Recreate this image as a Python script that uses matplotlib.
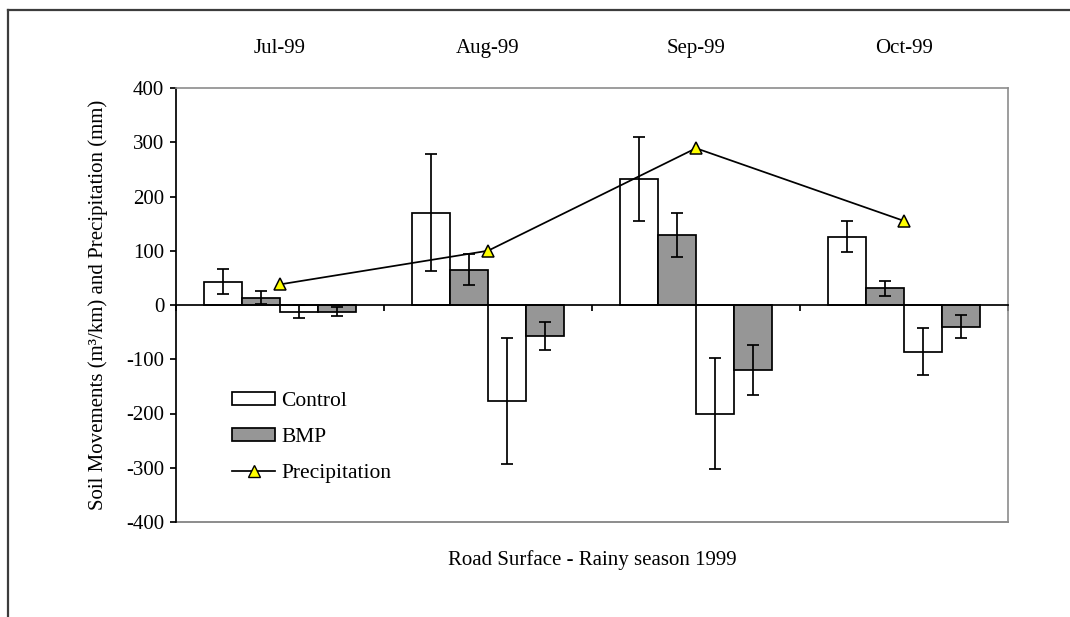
import numpy as np
import matplotlib.pyplot as plt
from matplotlib.patches import Patch
from matplotlib.lines import Line2D

plt.rcParams['font.family'] = ['Liberation Serif', 'DejaVu Serif']
plt.rcParams['axes.unicode_minus'] = False

# meses da estação chuvosa
meses = ['Jul-99', 'Aug-99', 'Sep-99', 'Oct-99']

# movimento de solo (m3/km): deposição (positivo) e erosão (negativo)
controle_pos = [43, 170, 232, 126]
controle_pos_err = [23, 108, 77, 28]
bmp_pos = [13, 65, 129, 31]
bmp_pos_err = [12, 29, 41, 14]
controle_neg = [-12, -177, -200, -86]
controle_neg_err = [12, 116, 102, 43]
bmp_neg = [-12, -57, -119, -40]
bmp_neg_err = [8, 26, 46, 21]

# precipitação mensal (mm)
precipitacao = [38, 100, 289, 155]

CINZA = '#969696'
LARGURA = 0.183
FONTE = 15
LW = 1.25

fig = plt.figure(figsize=(10.70, 6.17), dpi=100)
ax = fig.add_axes([176 / 1070, 1 - 522 / 617, 832 / 1070, 434 / 617])

x = np.arange(len(meses))
erro_kw = dict(elinewidth=LW, capthick=LW, ecolor='black')

series = [
    (controle_pos, controle_pos_err, 'white', -0.274),
    (bmp_pos, bmp_pos_err, CINZA, -0.0915),
    (controle_neg, controle_neg_err, 'white', 0.0915),
    (bmp_neg, bmp_neg_err, CINZA, 0.274),
]
for valores, erros, cor, desloc in series:
    ax.bar(x + desloc, valores, LARGURA, yerr=erros, color=cor,
           edgecolor='black', linewidth=LW, capsize=4.5, error_kw=erro_kw,
           zorder=2)

ax.plot(x, precipitacao, color='black', linewidth=LW, marker='^',
        markersize=8, markerfacecolor='yellow', markeredgecolor='black',
        markeredgewidth=1.1, zorder=4)

ax.set_xlim(-0.5, len(meses) - 0.5)
ax.set_ylim(-400, 400)
ax.set_yticks(np.arange(-400, 401, 100))

# eixo x no zero, com marcas entre os meses; rótulos dos meses em cima
ax.spines['bottom'].set_position(('data', 0))
ax.spines['bottom'].set_linewidth(LW)
ax.spines['left'].set_linewidth(LW)
for lado in ('top', 'right'):
    ax.spines[lado].set_color('#8c8c8c')
    ax.spines[lado].set_linewidth(1.2)
ax.add_line(Line2D([0, 1], [0, 0], transform=ax.transAxes, color='#8c8c8c',
                   linewidth=1.4, clip_on=False, zorder=1))

ax.set_xticks(x)
ax.set_xticklabels(meses, fontsize=FONTE)
ax.set_xticks(np.arange(-0.5, len(meses)), minor=True)
ax.tick_params(axis='x', which='major', bottom=False, top=False,
               labelbottom=False, labeltop=True, pad=18)
ax.tick_params(axis='x', which='minor', bottom=True, direction='out',
               length=4.5, width=LW)
ax.tick_params(axis='y', direction='out', length=4.5, width=LW,
               labelsize=FONTE, pad=4)

fig.text(98 / 1070, 1 - 305 / 617,
         'Soil Movements (m³/km) and Precipitation (mm)',
         rotation=90, ha='center', va='center', fontsize=FONTE)
fig.text(592 / 1070, 1 - 560 / 617, 'Road Surface - Rainy season 1999',
         ha='center', va='center', fontsize=FONTE)

handles = [
    Patch(facecolor='white', edgecolor='black', linewidth=LW),
    Patch(facecolor=CINZA, edgecolor='black', linewidth=LW),
    Line2D([], [], color='black', linewidth=LW, marker='^', markersize=8,
           markerfacecolor='yellow', markeredgecolor='black'),
]
ax.legend(handles, ['Control', 'BMP', 'Precipitation'], loc='center left',
          bbox_to_anchor=(0.057, 0.195), frameon=False, fontsize=15.5,
          handlelength=2.0, handleheight=0.55, handletextpad=0.3,
          labelspacing=0.77, borderaxespad=0)

# moldura externa (só topo e esquerda aparecem)
moldura = dict(transform=fig.transFigure, color='#3c3c3c', linewidth=1.6)
fig.add_artist(Line2D([8 / 1070, 1], [1 - 10 / 617] * 2, **moldura))
fig.add_artist(Line2D([8 / 1070] * 2, [0, 1 - 10 / 617], **moldura))

fig.savefig('out.png', dpi=100)
